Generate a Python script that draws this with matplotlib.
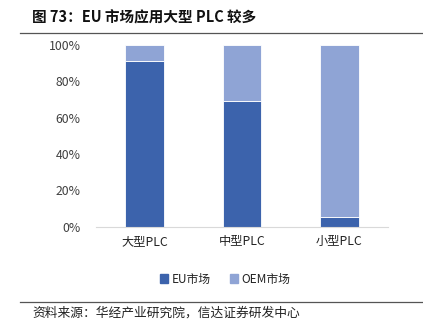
import matplotlib
matplotlib.use("Agg")
import matplotlib.pyplot as plt
from matplotlib.lines import Line2D
from matplotlib.patches import Patch

plt.rcParams['font.family'] = ['Noto Sans CJK SC', 'DejaVu Sans']

categories = ["大型PLC", "中型PLC", "小型PLC"]
eu_share = [91, 69, 5]
oem_share = [9, 31, 95]
series_names = ["EU市场", "OEM市场"]
yticks = [0, 20, 40, 60, 80, 100]
title = "图 73：EU 市场应用大型 PLC 较多"
source = "资料来源：华经产业研究院，信达证券研发中心"

c_eu = "#3C63AC"
c_oem = "#8FA4D5"
txt = "#404040"

W, H = 423, 329
fig = plt.figure(figsize=(W / 100, H / 100), dpi=100)
ax = fig.add_axes([96 / W, 1 - 226.5 / H, (388 - 96) / W, (226.5 - 45) / H])

x = list(range(len(categories)))
ax.bar(x, eu_share, width=0.40, color=c_eu, edgecolor="white", linewidth=0.6, label=series_names[0])
ax.bar(x, oem_share, bottom=eu_share, width=0.40, color=c_oem, edgecolor="white", linewidth=0.6, label=series_names[1])

ax.set_xlim(-0.5, 2.5)
ax.set_ylim(0, 100)
ax.set_yticks(yticks)
ax.set_yticklabels([f"{v}%" for v in yticks], fontsize=8.8, color=txt)
ax.set_xticks(x)
ax.set_xticklabels(categories, fontsize=8.8, color="#222222")
ax.tick_params(axis="both", length=0)
ax.tick_params(axis="x", pad=6)
ax.tick_params(axis="y", pad=11)
for s in ["top", "right", "left"]:
    ax.spines[s].set_visible(False)
ax.spines["bottom"].set_color("#D9D9D9")
ax.spines["bottom"].set_linewidth(0.8)

handles = [Patch(color=c_eu), Patch(color=c_oem)]
fig.legend(handles, series_names, loc="center", bbox_to_anchor=(225 / W, 1 - 279 / H),
           ncol=2, frameon=False, fontsize=8.5, handlelength=0.7, handleheight=0.7,
           handletextpad=0.3, columnspacing=1.6, labelcolor="#222222")

fig.text(32 / W, 1 - 17 / H, title, fontsize=10.5, fontweight="bold", va="center", ha="left", color="#111111")
fig.add_artist(Line2D([20 / W, 1], [1 - 33 / H, 1 - 33 / H], color="#555555", linewidth=0.9))
fig.add_artist(Line2D([20 / W, 1], [1 - 302 / H, 1 - 302 / H], color="#555555", linewidth=0.9))
fig.text(32 / W, 1 - 313 / H, source, fontsize=9.2, style="italic", va="center", ha="left", color="#222222")

fig.savefig("out.png", dpi=100)
